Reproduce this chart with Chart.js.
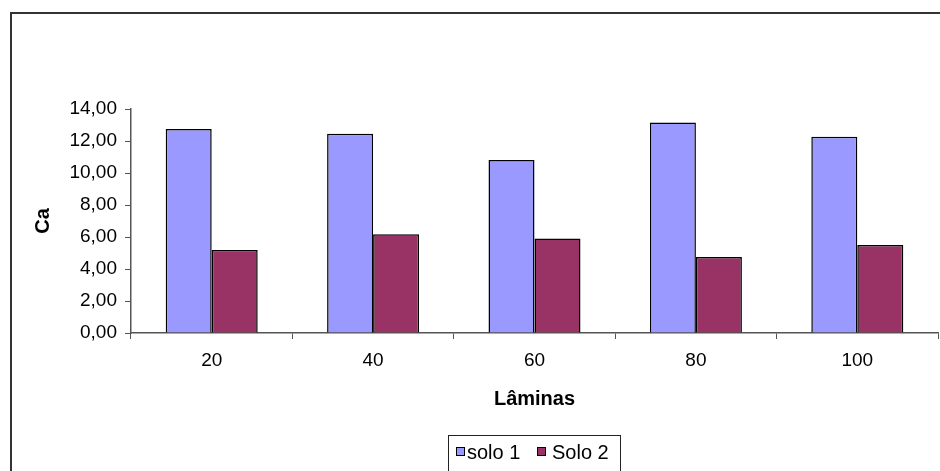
<!DOCTYPE html>
<html>
<head>
<meta charset="utf-8">
<script src="https://cdn.jsdelivr.net/npm/chart.js@4.4.1/dist/chart.umd.min.js"></script>
<style>
  body { margin: 0; background: #fff; }
  #wrap { position: relative; width: 940px; height: 471px; overflow: hidden; }
  #frame {
    position: absolute; left: 10px; top: 12px; width: 940px; height: 470px;
    border-left: 2px solid #333; border-top: 2px solid #333;
  }
  #chart { position: absolute; left: 0; top: 0; }
  #legend {
    position: absolute; left: 448px; top: 435px; width: 173px; height: 40px;
    border: 1px solid #222; box-sizing: border-box;
    font-family: "Liberation Sans", Arial, sans-serif; font-size: 20px; color: #000;
  }
  .sw { position: absolute; top: 11px; width: 9px; height: 9px; border: 1px solid #000; box-sizing: border-box; }
  .txt { position: absolute; top: 6px; line-height: 20px; white-space: nowrap; }
</style>
</head>
<body>
<div id="wrap">
  <div id="frame"></div>
  <canvas id="chart" width="940" height="471"></canvas>
  <div id="legend"></div>
</div>
<script>
const categories = ['20', '40', '60', '80', '100'];
const solo1 = [12.75, 12.46, 10.81, 13.15, 12.27];
const solo2 = [5.19, 6.17, 5.90, 4.75, 5.50];
const seriesNames = ['solo 1', 'Solo 2'];
const seriesColors = ['#9999FF', '#993366'];
const yTicks = [0, 2, 4, 6, 8, 10, 12, 14];

const font = "'Liberation Sans', Arial, sans-serif";

function formatComma(v) {
    return v.toFixed(2).replace('.', ',');
}

const ctx = document.getElementById('chart').getContext('2d');
new Chart(ctx, {
    type: 'bar',
    data: {
        labels: categories,
        datasets: [
            {
                label: seriesNames[0],
                data: solo1,
                backgroundColor: seriesColors[0],
                borderColor: '#000',
                borderWidth: 1.5,
                categoryPercentage: 0.57,
                barPercentage: 1
            },
            {
                label: seriesNames[1],
                data: solo2,
                backgroundColor: seriesColors[1],
                borderColor: '#000',
                borderWidth: 1.5,
                categoryPercentage: 0.57,
                barPercentage: 1
            }
        ]
    },
    options: {
        responsive: false,
        animation: false,
        layout: { padding: { top: 109, right: 2, left: 0, bottom: 0 } },
        plugins: {
            legend: { display: false },
            tooltip: { enabled: false }
        },
        scales: {
            x: {
                afterFit: scale => { scale.height = 138; },
                grid: {
                    display: true,
                    offset: true,
                    drawOnChartArea: false,
                    tickLength: 6,
                    color: '#555'
                },
                border: { color: '#555', width: 1.5 },
                ticks: {
                    color: '#000',
                    font: { family: font, size: 19 },
                    padding: 10
                },
                title: {
                    display: true,
                    text: 'Lâminas',
                    color: '#000',
                    font: { family: font, size: 20, weight: 'bold' },
                    padding: { top: 60, bottom: 60 }
                }
            },
            y: {
                min: 0,
                max: 14,
                afterFit: scale => { scale.width = 131; },
                afterBuildTicks: scale => {
                    scale.ticks = yTicks.map(v => ({ value: v }));
                },
                grid: {
                    display: true,
                    drawOnChartArea: false,
                    tickLength: 6,
                    color: '#555'
                },
                border: { color: '#555', width: 1.5 },
                ticks: {
                    color: '#000',
                    font: { family: font, size: 19 },
                    padding: 8,
                    callback: v => formatComma(v)
                },
                title: {
                    display: true,
                    text: 'Ca',
                    color: '#000',
                    font: { family: font, size: 20, weight: 'bold' },
                    padding: { top: 31, bottom: 31 }
                }
            }
        }
    }
});

// legend in a framed box, as in the original
const legend = document.getElementById('legend');
const swatchLeft = [7, 88];
const textLeft = [18, 103];
seriesNames.forEach((name, i) => {
    const sw = document.createElement('span');
    sw.className = 'sw';
    sw.style.left = swatchLeft[i] + 'px';
    sw.style.background = seriesColors[i];
    const txt = document.createElement('span');
    txt.className = 'txt';
    txt.style.left = textLeft[i] + 'px';
    txt.textContent = name;
    legend.appendChild(sw);
    legend.appendChild(txt);
});
</script>
</body>
</html>
